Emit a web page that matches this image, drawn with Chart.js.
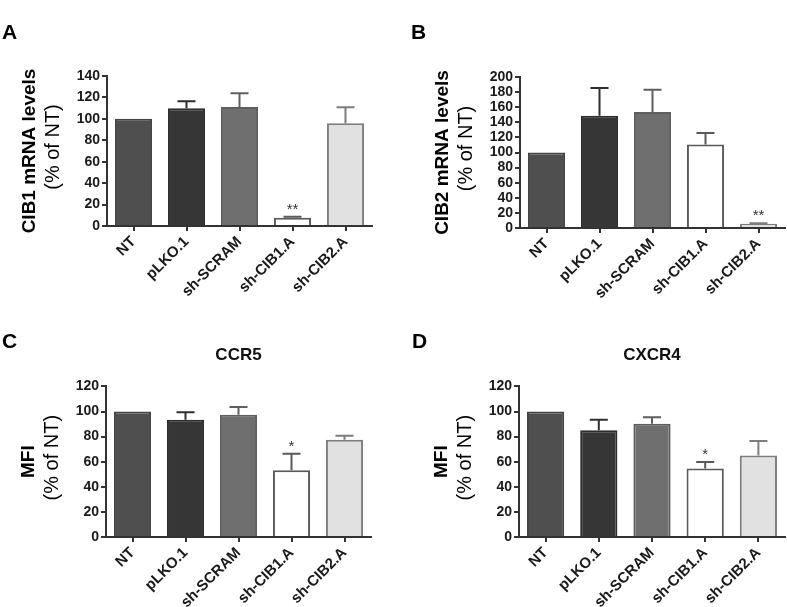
<!DOCTYPE html>
<html>
<head>
<meta charset="utf-8">
<script src="https://cdn.jsdelivr.net/npm/chart.js@4.4.1/dist/chart.umd.min.js"></script>
<style>
  body { margin: 0; background: #fff; width: 787px; height: 607px; position: relative; overflow: hidden; }
  canvas { position: absolute; }
</style>
</head>
<body>
<canvas id="chartA" width="393" height="303" style="left:0;top:0"></canvas>
<canvas id="chartB" width="394" height="303" style="left:393px;top:0"></canvas>
<canvas id="chartC" width="393" height="304" style="left:0;top:303px"></canvas>
<canvas id="chartD" width="394" height="304" style="left:393px;top:303px"></canvas>
<script>
// categories shared by all four panels
const categories = ['NT', 'pLKO.1', 'sh-SCRAM', 'sh-CIB1.A', 'sh-CIB2.A'];

// A: CIB1 mRNA levels (% of NT)
const cib1Mean = [100, 110, 111, 7.7, 95.9];
const cib1Sem = [0, 6.4, 13, 1, 14.9];
const cib1Stars = ['', '', '', '**', ''];

// B: CIB2 mRNA levels (% of NT)
const cib2Mean = [100, 148.6, 153.5, 110.6, 5.7];
const cib2Sem = [0, 36.8, 29.5, 15.1, 0.5];
const cib2Stars = ['', '', '', '', '**'];

// C: CCR5 MFI (% of NT)
const ccr5Mean = [100, 93.5, 97.4, 53.1, 77.5];
const ccr5Sem = [0, 6, 6.1, 13.3, 3.2];
const ccr5Stars = ['', '', '', '*', ''];

// D: CXCR4 MFI (% of NT)
const cxcr4Mean = [100, 85, 90.3, 54.5, 65];
const cxcr4Sem = [0, 8.5, 5.2, 5.2, 11.4];
const cxcr4Stars = ['', '', '', '*', ''];

const fillColors = ['#4f4f4f', '#363636', '#6f6f6f', '#ffffff', '#e1e1e1'];
const edgeColors = ['#454545', '#2e2e2e', '#5f5f5f', '#5a5a5a', '#7d7d7d'];
const FONT = '"Liberation Sans", Arial, sans-serif';

// draws the upward SEM whiskers and significance stars
const errorBars = {
    id: 'errorBars',
    afterDatasetsDraw(chart, args, opts) {
        const ctx = chart.ctx;
        const yScale = chart.scales.y;
        const meta = chart.getDatasetMeta(0);
        meta.data.forEach((bar, i) => {
            let top = bar.y;
            ctx.save();
            ctx.strokeStyle = edgeColors[i];
            ctx.lineWidth = 2;
            if (opts.sem[i] > 0) {
                top = yScale.getPixelForValue(opts.mean[i] + opts.sem[i]);
                ctx.beginPath();
                ctx.moveTo(bar.x, bar.y);
                ctx.lineTo(bar.x, top);
                ctx.moveTo(bar.x - 9, top);
                ctx.lineTo(bar.x + 9, top);
                ctx.stroke();
            }
            if (opts.stars[i]) {
                ctx.fillStyle = '#333';
                ctx.font = '15px ' + FONT;
                ctx.textAlign = 'center';
                ctx.textBaseline = 'alphabetic';
                ctx.fillText(opts.stars[i], bar.x, top - 3);
            }
            ctx.restore();
        });
    }
};

// panel letter and the two-line rotated y label
const panelText = {
    id: 'panelText',
    afterDraw(chart, args, o) {
        const ctx = chart.ctx;
        const a = chart.chartArea;
        const mid = (a.top + a.bottom) / 2;
        ctx.save();
        ctx.fillStyle = '#000';
        ctx.font = 'bold 21px ' + FONT;
        ctx.textAlign = 'left';
        ctx.textBaseline = 'alphabetic';
        ctx.fillText(o.letter, o.letterX, o.letterY);
        ctx.restore();

        ctx.save();
        ctx.fillStyle = '#000';
        ctx.translate(a.left - 77, mid);
        ctx.rotate(-Math.PI / 2);
        ctx.textAlign = 'center';
        ctx.textBaseline = 'middle';
        ctx.font = 'bold 19px ' + FONT;
        ctx.fillText(o.line1, 0, 0);
        ctx.restore();

        ctx.save();
        ctx.fillStyle = '#000';
        ctx.translate(a.left - 54, mid - 4);
        ctx.rotate(-Math.PI / 2);
        ctx.textAlign = 'center';
        ctx.textBaseline = 'middle';
        ctx.font = '20px ' + FONT;
        ctx.fillText(o.line2, 0, 0);
        ctx.restore();
    }
};

function renderPanel(id, p) {
    const ctx = document.getElementById(id).getContext('2d');
    return new Chart(ctx, {
        type: 'bar',
        data: {
            labels: categories,
            datasets: [{
                data: p.mean,
                backgroundColor: fillColors,
                borderColor: edgeColors,
                borderWidth: 2,
                borderSkipped: 'bottom',
                barPercentage: 0.7,
                categoryPercentage: 1
            }]
        },
        options: {
            responsive: false,
            animation: false,
            devicePixelRatio: 1,
            layout: { padding: { top: p.padTop, right: p.padRight, left: 0, bottom: 0 } },
            plugins: {
                legend: { display: false },
                tooltip: { enabled: false },
                title: {
                    display: !!p.title,
                    text: p.title || '',
                    fullSize: false,
                    color: '#111',
                    font: { family: FONT, size: 17, weight: 'bold', lineHeight: 1.2 },
                    padding: { top: 42, bottom: 21 }
                },
                errorBars: { mean: p.mean, sem: p.sem, stars: p.stars },
                panelText: { letter: p.letter, letterX: p.letterX, letterY: p.letterY, line1: p.line1, line2: p.line2 }
            },
            scales: {
                x: {
                    offset: true,
                    border: { color: '#333', width: 2 },
                    grid: { offset: false, drawOnChartArea: false, drawTicks: true, tickLength: 5, color: '#333', lineWidth: 2 },
                    ticks: {
                        color: '#1a1a1a',
                        font: { family: FONT, size: 15, weight: 'bold' },
                        minRotation: 45,
                        maxRotation: 45,
                        padding: 2
                    },
                    afterFit(scale) { scale.height = p.xHeight; }
                },
                y: {
                    min: 0,
                    max: p.max,
                    border: { color: '#333', width: 2 },
                    grid: { drawOnChartArea: false, drawTicks: true, tickLength: 5, color: '#333', lineWidth: 2 },
                    ticks: {
                        stepSize: 20,
                        autoSkip: false,
                        color: '#1a1a1a',
                        font: { family: FONT, size: 14, weight: 'bold', lineHeight: 1 },
                        padding: 2
                    },
                    afterFit(scale) { scale.width = p.yWidth; }
                }
            }
        },
        plugins: [errorBars, panelText]
    });
}

renderPanel('chartA', {
    mean: cib1Mean, sem: cib1Sem, stars: cib1Stars, max: 140,
    letter: 'A', letterX: 2, letterY: 39, line1: 'CIB1 mRNA levels', line2: '(% of NT)',
    padTop: 76, padRight: 21, yWidth: 107, xHeight: 77
});
renderPanel('chartB', {
    mean: cib2Mean, sem: cib2Sem, stars: cib2Stars, max: 200,
    letter: 'B', letterX: 18, letterY: 39, line1: 'CIB2 mRNA levels', line2: '(% of NT)',
    padTop: 77, padRight: 2, yWidth: 127, xHeight: 75
});
renderPanel('chartC', {
    mean: ccr5Mean, sem: ccr5Sem, stars: ccr5Stars, max: 120, title: 'CCR5',
    letter: 'C', letterX: 2, letterY: 45, line1: 'MFI', line2: '(% of NT)',
    padTop: 0, padRight: 22, yWidth: 106, xHeight: 70
});
renderPanel('chartD', {
    mean: cxcr4Mean, sem: cxcr4Sem, stars: cxcr4Stars, max: 120, title: 'CXCR4',
    letter: 'D', letterX: 19, letterY: 45, line1: 'MFI', line2: '(% of NT)',
    padTop: 0, padRight: 2, yWidth: 126, xHeight: 70
});
</script>
</body>
</html>
